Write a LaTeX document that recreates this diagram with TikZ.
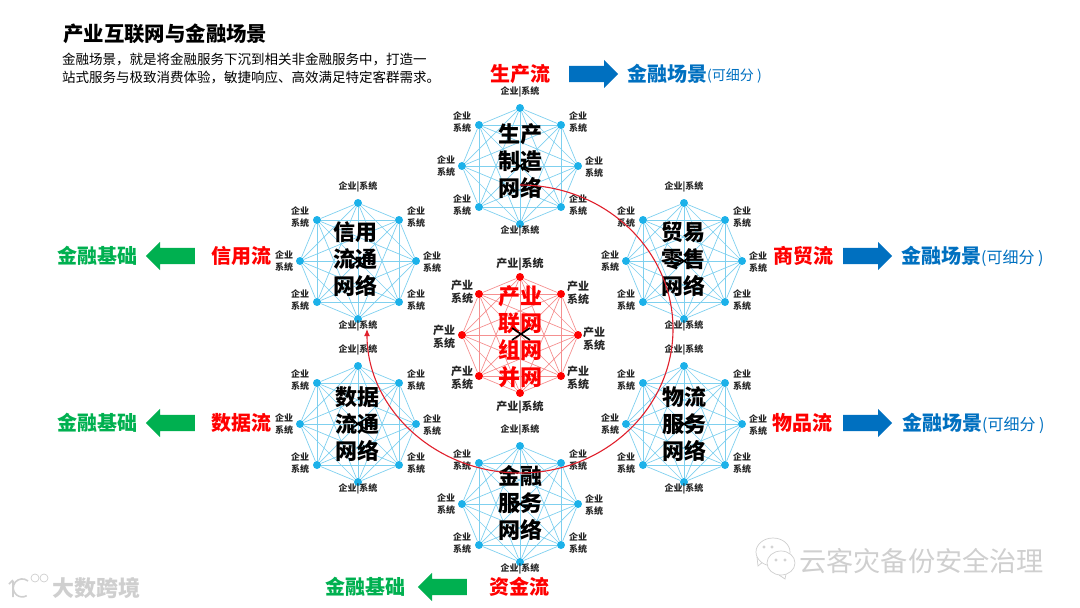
\documentclass[tikz,border=0pt]{standalone}
\usepackage{fontspec}
\setmainfont{Noto Sans CJK SC}
\usetikzlibrary{shapes.arrows,arrows.meta}
\definecolor{netblue}{HTML}{1CB1E9}
\definecolor{edgeblue}{HTML}{7FD0EF}
\definecolor{netred}{HTML}{FF0000}
\definecolor{edgered}{HTML}{F59090}
\definecolor{flowred}{HTML}{FF0000}
\definecolor{sceneblue}{HTML}{0070C0}
\definecolor{basegreen}{HTML}{00B050}
\definecolor{arcred}{HTML}{E0202C}
\definecolor{markgray}{HTML}{CFCFCF}
\tikzset{
	netdot/.style={circle,fill=#1,inner sep=0pt,minimum size=8pt},
	netedge/.style={draw=#1,line width=0.7pt},
	smalllabel/.style={font=\fontsize{9}{12}\selectfont\bfseries,align=center,inner sep=0pt,text=black!85},
	redlabel/.style={font=\fontsize{11}{13}\selectfont\bfseries,align=center,inner sep=0pt,text=black!85},
	nettext/.style={font=\fontsize{22}{27}\selectfont\bfseries,align=center,inner sep=0pt},
	flowtext/.style={font=\fontsize{20}{22}\selectfont\bfseries,text=flowred,inner sep=0pt},
	scenetext/.style={font=\fontsize{20}{22}\selectfont\bfseries,text=sceneblue,inner sep=0pt},
	basetext/.style={font=\fontsize{20}{22}\selectfont\bfseries,text=basegreen,inner sep=0pt},
	subtext/.style={font=\fontsize{#1}{16}\selectfont,text=sceneblue,inner sep=0pt},
	flowarrow/.style={single arrow,fill=#1,minimum height=49pt,minimum width=28pt,anchor=tail,
		single arrow head extend=6pt,inner xsep=0pt,inner ysep=8pt,shape border rotate=0},
	backarrow/.style={flowarrow=#1,shape border rotate=180},
	crossline/.style={line width=1.6pt,black},
	markline/.style={draw=markgray,line width=0.7pt,fill=white}
}
\begin{document}
\begin{tikzpicture}[x=1pt,y=-1pt]
	\useasboundingbox (0,0) rectangle (1080,608);
	\node[anchor=west,inner sep=0pt,font=\fontsize{20.4}{24}\selectfont\bfseries] (title) at (63,34) {产业互联网与金融场景};
	\node[anchor=north west,inner sep=0pt,align=left,font=\fontsize{13.5}{18}\selectfont] (intro) at (62,53) {金融场景，就是将金融服务下沉到相关非金融服务中，打造一\\站式服务与极致消费体验，敏捷响应、高效满足特定客群需求。};

	\foreach \n/\cx/\cy in {prod/520/166,credit/358/261,trade/684/261,data/358/424,logi/684/424,fin/520/504} {
		\foreach \i/\dx/\dy/\lx/\ly/\t in {0/0/-58/0/-74/企业|系统,1/41/-41/58/-44/企业\\系统,2/58/0/74/1/企业\\系统,3/41/41/58/39/企业\\系统,4/0/58/0/65/企业|系统,5/-41/41/-58/39/企业\\系统,6/-58/0/-74/0/企业\\系统,7/-41/-41/-58/-44/企业\\系统} {
			\node[netdot=netblue] (\n-\i) at (\cx+\dx,\cy+\dy) {};
			\node[smalllabel] (\n-l\i) at (\cx+\lx,\cy+\ly) {\t};
		}
		\foreach \i in {0,...,7} {
			\foreach \j in {0,...,7} {
				\ifnum\i<\j \draw[netedge=edgeblue] (\n-\i) -- (\n-\j); \fi
			}
		}
	}
	\foreach \i/\dx/\dy/\lx/\ly/\t in {0/0/-58/0/-71/产业|系统,1/41/-41/58/-42/产业\\系统,2/58/0/74/4/产业\\系统,3/41/41/58/43/产业\\系统,4/0/58/0/72/产业|系统,5/-41/41/-58/43/产业\\系统,6/-58/0/-76/2/产业\\系统,7/-41/-41/-58/-43/产业\\系统} {
		\node[netdot=netred] (core-\i) at (520+\dx,335+\dy) {};
		\node[redlabel] (core-l\i) at (520+\lx,335+\ly) {\t};
	}
	\foreach \i in {0,...,7} {
		\foreach \j in {0,...,7} {
			\ifnum\i<\j \draw[netedge=edgered] (core-\i) -- (core-\j); \fi
		}
	}

	\node[nettext] (prodtext) at (520,161) {生产\\制造\\网络};
	\node[nettext] (credittext) at (355,259) {信用\\流通\\网络};
	\node[nettext] (tradetext) at (683,259) {贸易\\零售\\网络};
	\node[nettext] (datatext) at (357,424) {数据\\流通\\网络};
	\node[nettext] (logitext) at (684,424) {物流\\服务\\网络};
	\node[nettext] (fintext) at (520,503) {金融\\服务\\网络};
	\node[nettext,text=netred] (coretext) at (520,337) {产业\\联网\\组网\\并网};
	\foreach \cx/\cy in {520/166,358/261,684/261,358/424,684/424,520/504,521/334} {
		\draw[crossline] (\cx-9,\cy-6) -- (\cx+9,\cy+6) (\cx-9,\cy+6) -- (\cx+9,\cy-6);
	}

	\coordinate (arcstart) at (520,185);
	\draw[arcred,line width=1.1pt,-{Latex[length=7pt,width=6pt]}] (arcstart) arc[start angle=90,end angle=-180,x radius=153pt,y radius=144pt];

	\node[flowtext] (prodflow) at (520,74) {生产流};
	\node[flowarrow=sceneblue] (prodarrow) at (569,74) {};
	\node[scenetext,anchor=west] (prodscene) at (627,74) {金融场景};
	\node[subtext=14,anchor=west] (prodsub) at (707,76) {(可细分 )};

	\node[flowtext] (tradeflow) at (803,256) {商贸流};
	\node[flowarrow=sceneblue] (tradearrow) at (843,256) {};
	\node[scenetext,anchor=west] (tradescene) at (901,256) {金融场景};
	\node[subtext=16,anchor=west] (tradesub) at (981,258) {(可细分 )};

	\node[flowtext] (logiflow) at (802,423) {物品流};
	\node[flowarrow=sceneblue] (logiarrow) at (843,423) {};
	\node[scenetext,anchor=west] (logiscene) at (902,423) {金融场景};
	\node[subtext=16,anchor=west] (logisub) at (982,425) {(可细分 )};

	\node[flowtext] (creditflow) at (241,256) {信用流};
	\node[backarrow=basegreen] (creditarrow) at (195,256) {};
	\node[basetext] (creditbase) at (97,256) {金融基础};

	\node[flowtext] (dataflow) at (241,423) {数据流};
	\node[backarrow=basegreen] (dataarrow) at (195,423) {};
	\node[basetext] (database) at (97,423) {金融基础};

	\node[flowtext] (finflow) at (519,587) {资金流};
	\node[backarrow=basegreen] (finarrow) at (467,587) {};
	\node[basetext] (finbase) at (365,587) {金融基础};

	\node[anchor=west,inner sep=0pt,text=markgray,font=\fontsize{27.2}{30}\selectfont] (markright) at (799,561) {云客灾备份安全治理};
	\node[anchor=west,inner sep=0pt,text=markgray,font=\fontsize{22}{26}\selectfont\bfseries] (markleft) at (52,588) {大数跨境};
	\draw[markline] (757,557) -- (758,566) -- (764,561);
	\draw[markline] (773,552) ellipse[x radius=17pt,y radius=14pt];
	\draw[markline] (786,574) -- (785,579) -- (779,575);
	\draw[markline] (781,563) ellipse[x radius=14pt,y radius=12pt];
	\foreach \x/\y in {764/547,772/547,776/560,785/560} {
		\draw[markline] (\x,\y) circle[radius=1.2pt];
	}
	\draw[markgray,line width=1.6pt] (13,581) -- (13,597) (9,584) -- (13,580);
	\draw[markgray,line width=1.6pt] (28,581) arc[start angle=50,end angle=300,radius=9pt];
	\draw[markline] (35,578) circle[radius=4pt];
	\draw[markline] (44,578) circle[radius=4pt];
\end{tikzpicture}
\end{document}
